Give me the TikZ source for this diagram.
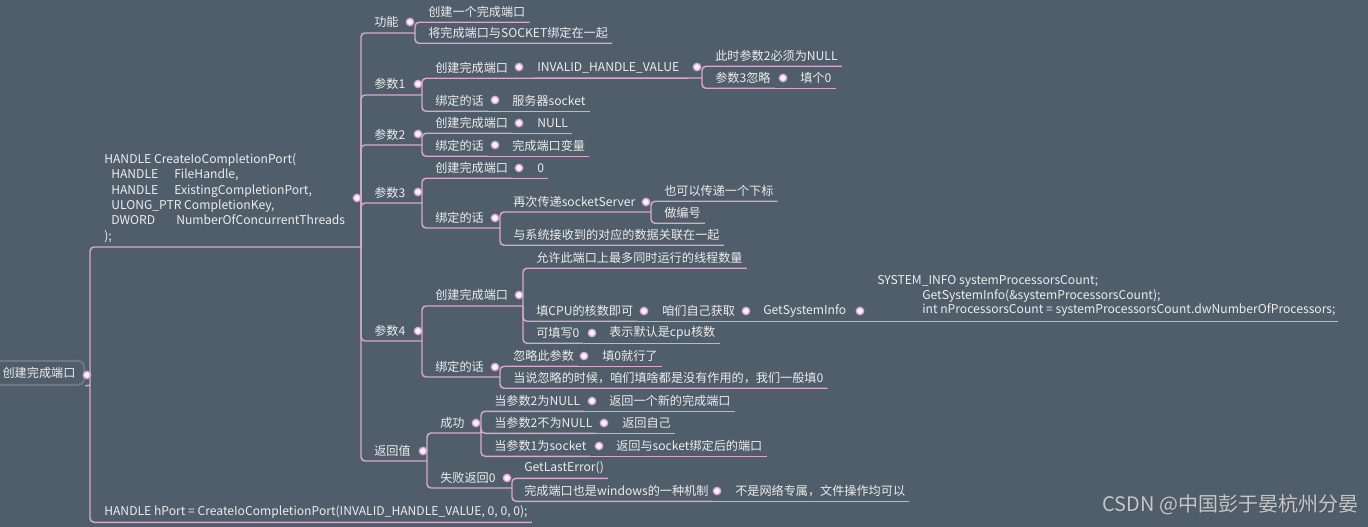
\documentclass[tikz,border=0pt]{standalone}
\usepackage{fontspec}
\setmainfont{Noto Sans CJK SC}
\definecolor{bgc}{HTML}{505D6A}
\definecolor{linec}{HTML}{D9A8CF}
\definecolor{txtc}{HTML}{EDEDED}
\definecolor{dotc}{HTML}{FBF3F9}
\definecolor{boxc}{HTML}{6E7883}
\definecolor{wmc}{HTML}{C4C8CC}
\tikzset{
  topic/.style={anchor=west, text=txtc, inner xsep=3pt, inner ysep=0pt, minimum height=15pt, font=\fontsize{9.1}{11}\selectfont},
  codeblock/.style={anchor=west, text=txtc, inner sep=0pt, align=left, font=\fontsize{9.1}{11.6}\selectfont},
  knob/.style={circle, fill=dotc, draw=linec, line width=1pt, minimum size=5.5pt, inner sep=0pt},
  link/.style={draw=linec, line width=1.1pt, rounded corners=3pt},
  rootbox/.style={draw=boxc, line width=1.5pt, rounded corners=5pt, text=txtc, minimum width=68pt, minimum height=18pt, inner sep=0pt, font=\fontsize{9.1}{11}\selectfont}
}
\begin{document}
\begin{tikzpicture}[x=0.75pt,y=-0.75pt]
\fill[bgc] (0,0) rectangle (1368,527);
\useasboundingbox (0,0) rectangle (1368,527);

\node[rootbox] (root) at (39,373) {创建完成端口};
\node[knob] (k-root) at (87,375) {};
\coordinate (jr) at (90,385);

\node[codeblock] (decl) at (104,198) {HANDLE CreateIoCompletionPort(\\
\hspace*{5.25pt}\makebox[47.25pt][l]{HANDLE}FileHandle,\\
\hspace*{5.25pt}\makebox[47.25pt][l]{HANDLE}ExistingCompletionPort,\\
\hspace*{5.25pt}ULONG\_PTR CompletionKey,\\
\hspace*{5.25pt}\makebox[48.75pt][l]{DWORD}NumberOfConcurrentThreads\\
);};
\node[knob] (k-decl) at (357,198) {};
\coordinate (jdecl) at (361,247);
\node[topic] (call) at (100,512) {HANDLE hPort = CreateIoCompletionPort(INVALID\_HANDLE\_VALUE, 0, 0, 0);};

\node[topic] (gn) at (370,22) {功能};
\node[knob] (k-gn) at (410,22) {};
\coordinate (jgn) at (415,33);
\node[topic] (p1) at (370,84) {参数1};
\node[knob] (k-p1) at (418,84) {};
\coordinate (jp1) at (422,95);
\node[topic] (p2) at (370,135) {参数2};
\node[knob] (k-p2) at (418,134) {};
\coordinate (jp2) at (422,145);
\node[topic] (p3) at (370,193) {参数3};
\node[knob] (k-p3) at (418,192) {};
\coordinate (jp3) at (422,203);
\node[topic] (p4) at (370,331) {参数4};
\node[knob] (k-p4) at (418,331) {};
\coordinate (jp4) at (422,341);
\node[topic] (rv) at (370,451) {返回值};
\node[knob] (k-rv) at (423,451) {};
\coordinate (jrv) at (427,461);

\node[topic] (gn1) at (424,12) {创建一个完成端口};
\node[topic] (gn2) at (424,33) {将完成端口与SOCKET绑定在一起};

\node[topic] (p1a) at (431,68) {创建完成端口};
\node[knob] (k-p1a) at (519,67) {};
\node[topic] (p1b) at (533,68) {INVALID\_HANDLE\_VALUE};
\node[knob] (k-p1b) at (697,67) {};
\coordinate (jp1b) at (702,78);
\node[topic] (p1c) at (711,56) {此时参数2必须为NULL};
\node[topic] (p1d) at (711,78) {参数3忽略};
\node[knob] (k-p1d) at (783,78) {};
\node[topic] (p1e) at (796,78) {填个0};
\node[topic] (p1f) at (431,101) {绑定的话};
\node[knob] (k-p1f) at (495,100) {};
\node[topic] (p1g) at (508,101) {服务器socket};

\node[topic] (p2a) at (431,123) {创建完成端口};
\node[knob] (k-p2a) at (519,123) {};
\node[topic] (p2b) at (533,123) {NULL};
\node[topic] (p2c) at (431,146) {绑定的话};
\node[knob] (k-p2c) at (495,145) {};
\node[topic] (p2d) at (508,146) {完成端口变量};

\node[topic] (p3a) at (431,168) {创建完成端口};
\node[knob] (k-p3a) at (519,168) {};
\node[topic] (p3b) at (533,168) {0};
\node[topic] (p3c) at (431,218) {绑定的话};
\node[knob] (k-p3c) at (495,218) {};
\coordinate (jp3c) at (500,228);
\node[topic] (p3d) at (509,202) {再次传递socketServer};
\node[knob] (k-p3d) at (646,202) {};
\coordinate (jp3d) at (651,212);
\node[topic] (p3e) at (660,191) {也可以传递一个下标};
\node[topic] (p3f) at (660,213) {做编号};
\node[topic] (p3g) at (509,235) {与系统接收到的对应的数据关联在一起};

\node[topic] (p4a) at (431,295) {创建完成端口};
\node[knob] (k-p4a) at (519,295) {};
\coordinate (jp4a) at (523,306);
\node[topic] (p4b) at (532,258) {允许此端口上最多同时运行的线程数量};
\node[topic] (p4c) at (532,311) {填CPU的核数即可};
\node[knob] (k-p4c) at (644,311) {};
\node[topic] (p4d) at (658,311) {咱们自己获取};
\node[knob] (k-p4d) at (746,311) {};
\node[topic] (p4e) at (759,311) {GetSystemInfo};
\node[knob] (k-p4e) at (860,311) {};
\node[codeblock, font=\fontsize{9.1}{10.9}\selectfont] (p4f) at (877,296) {SYSTEM\_INFO systemProcessorsCount;\\
\hspace*{33.75pt}GetSystemInfo(\&systemProcessorsCount);\\
\hspace*{33.75pt}int nProcessorsCount = systemProcessorsCount.dwNumberOfProcessors;};
\node[topic] (p4g) at (532,333) {可填写0};
\node[knob] (k-p4g) at (592,333) {};
\node[topic] (p4h) at (605,333) {表示默认是cpu核数};
\node[topic] (p4i) at (431,367) {绑定的话};
\node[knob] (k-p4i) at (495,367) {};
\coordinate (jp4i) at (500,377);
\node[topic] (p4j) at (509,356) {忽略此参数};
\node[knob] (k-p4j) at (584,356) {};
\node[topic] (p4k) at (598,356) {填0就行了};
\node[topic] (p4l) at (509,378) {当说忽略的时候，咱们填啥都是没有作用的，我们一般填0};

\node[topic] (rva) at (436,423) {成功};
\node[knob] (k-rva) at (476,423) {};
\coordinate (jrva) at (481,433);
\node[topic] (rvb) at (490,401) {当参数2为NULL};
\node[knob] (k-rvb) at (592,401) {};
\node[topic] (rvc) at (605,401) {返回一个新的完成端口};
\node[topic] (rvd) at (490,423) {当参数2不为NULL};
\node[knob] (k-rvd) at (604,423) {};
\node[topic] (rve) at (618,423) {返回自己};
\node[topic] (rvf) at (490,446) {当参数1为socket};
\node[knob] (k-rvf) at (599,446) {};
\node[topic] (rvg) at (612,446) {返回与socket绑定后的端口};
\node[topic] (rvh) at (436,478) {失败返回0};
\node[knob] (k-rvh) at (507,478) {};
\coordinate (jrvh) at (512,488);
\node[topic] (rvi) at (520,468) {GetLastError()};
\node[topic] (rvj) at (520,491) {完成端口也是windows的一种机制};
\node[knob] (k-rvj) at (717,491) {};
\node[topic] (rvk) at (731,491) {不是网络专属，文件操作均可以};

\draw[link] (root.south east) -- (jr);
\draw[link] (jr) |- (jdecl);
\draw[link] (jr) |- (call.south east);

\draw[link] (jdecl) |- (jgn);
\draw[link] (jdecl) |- (jp1);
\draw[link] (jdecl) |- (jp2);
\draw[link] (jdecl) |- (jp3);
\draw[link] (jdecl) |- (jp4);
\draw[link] (jdecl) |- (jrv);

\draw[link] (jgn) |- (gn1.south east);
\draw[link] (jgn) |- (gn2.south east);

\draw[link] (jp1) |- (p1a.south east);
\draw[link] (p1a.south east) -- (jp1b);
\draw[link] (jp1b) |- (p1c.south east);
\draw[link] (jp1b) |- (p1d.south east);
\draw[link] (p1d.south east) -- (p1e.south east);
\draw[link] (jp1) |- (p1f.south east);
\draw[link] (p1f.south east) -- (p1g.south east);

\draw[link] (jp2) |- (p2a.south east);
\draw[link] (p2a.south east) -- (p2b.south east);
\draw[link] (jp2) |- (p2c.south east);
\draw[link] (p2c.south east) -- (p2d.south east);

\draw[link] (jp3) |- (p3a.south east);
\draw[link] (p3a.south east) -- (p3b.south east);
\draw[link] (jp3) |- (jp3c);
\draw[link] (jp3c) |- (jp3d);
\draw[link] (jp3d) |- (p3e.south east);
\draw[link] (jp3d) |- (p3f.south east);
\draw[link] (jp3c) |- (p3g.south east);

\draw[link] (jp4) |- (jp4a);
\draw[link] (jp4a) |- (p4b.south east);
\draw[link] (jp4a) |- (p4c.south east);
\draw[link] (p4c.south east) -- (p4d.south east);
\draw[link] (p4d.south east) -- (p4e.south east);
\draw[link] (p4e.south east) -- ([xshift=2pt]p4f.east |- p4e.south);
\draw[link] (jp4a) |- (p4g.south east);
\draw[link] (p4g.south east) -- (p4h.south east);
\draw[link] (jp4) |- (jp4i);
\draw[link] (jp4i) |- (p4j.south east);
\draw[link] (p4j.south east) -- (p4k.south east);
\draw[link] (jp4i) |- (p4l.south east);

\draw[link] (jrv) |- (jrva);
\draw[link] (jrva) |- (rvb.south east);
\draw[link] (rvb.south east) -- (rvc.south east);
\draw[link] (jrva) |- (rvd.south east);
\draw[link] (rvd.south east) -- (rve.south east);
\draw[link] (jrva) |- (rvf.south east);
\draw[link] (rvf.south east) -- (rvg.south east);
\draw[link] (jrv) |- (jrvh);
\draw[link] (jrvh) |- (rvi.south east);
\draw[link] (jrvh) |- (rvj.south east);
\draw[link] (rvj.south east) -- (rvk.south east);

\node[anchor=west, text=black!70, opacity=0.5, font=\fontsize{15}{15}\selectfont] (wm-s) at (1099,506) {CSDN @中国彭于晏杭州分晏};
\node[anchor=west, text=wmc, font=\fontsize{15}{15}\selectfont] (wm) at (1098,505) {CSDN @中国彭于晏杭州分晏};
\end{tikzpicture}
\end{document}
